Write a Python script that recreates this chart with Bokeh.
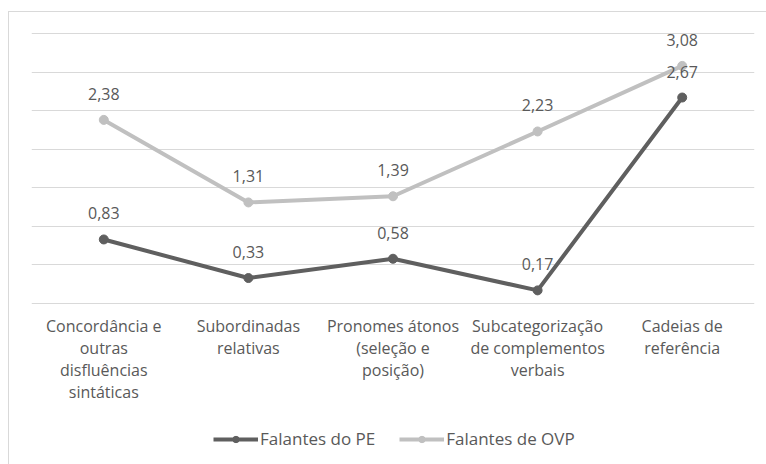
import numpy as np
from bokeh.plotting import figure
from bokeh.models import Range1d, FixedTicker, Legend, LegendItem, ColumnDataSource
from bokeh.core.properties import value
from bokeh.embed import file_html
from bokeh.resources import INLINE

# --- data -------------------------------------------------------------
categories = [
    "Concordância e\noutras\ndisfluências\nsintáticas",
    "Subordinadas\nrelativas",
    "Pronomes átonos\n(seleção e\nposição)",
    "Subcategorização\nde complementos\nverbais",
    "Cadeias de\nreferência",
]
falantes_pe = [0.83, 0.33, 0.58, 0.17, 2.67]
falantes_ovp = [2.38, 1.31, 1.39, 2.23, 3.08]
series_names = ["Falantes do PE", "Falantes de OVP"]

FONT = "Open Sans"
DARK = "#5f5f5f"
LIGHT = "#c0c0c0"
TEXT = "#595959"
GRID = "#d9d9d9"

x = list(range(len(categories)))

# the frame runs down to the bottom of the chart so that the category
# labels and the legend sit inside it; the value scale is 77.14 px per unit
PX_PER_UNIT = 77.14
FRAME_H = 432
y_top = 3.5 + 1 / PX_PER_UNIT
y_bottom = y_top - FRAME_H / PX_PER_UNIT

p = figure(
    width=757, height=452,
    frame_width=723, frame_height=FRAME_H,
    output_backend="svg", toolbar_location=None,
    x_range=Range1d(-0.5, len(categories) - 0.5),
    y_range=Range1d(y_bottom, y_top),
    min_border_left=22, min_border_right=12,
    min_border_top=20, min_border_bottom=0,
)
p.margin = (11, 0, 0, 8)
p.styles = {"border-top": f"1px solid {GRID}", "border-left": f"1px solid {GRID}"}
p.outline_line_color = None
p.background_fill_color = "white"
p.border_fill_color = "white"

p.xaxis.visible = False
p.yaxis.visible = False
p.xgrid.grid_line_color = None
p.ygrid.ticker = FixedTicker(ticks=list(np.arange(0, 3.51, 0.5)))
p.ygrid.grid_line_color = GRID
p.ygrid.grid_line_width = 1

src_pe = ColumnDataSource(dict(x=x, y=falantes_pe,
                               t=[f"{v:.2f}".replace(".", ",") for v in falantes_pe]))
src_ovp = ColumnDataSource(dict(x=x, y=falantes_ovp,
                                t=[f"{v:.2f}".replace(".", ",") for v in falantes_ovp]))

items = []
for src, color, name in [(src_pe, DARK, series_names[0]), (src_ovp, LIGHT, series_names[1])]:
    ln = p.line("x", "y", source=src, line_color=color, line_width=4)
    mk = p.scatter("x", "y", source=src, size=9, fill_color=color, line_color=color)
    items.append(LegendItem(label=name, renderers=[ln, mk]))

# value labels above the markers
for src in (src_pe, src_ovp):
    p.text("x", "y", text="t", source=src, text_font=value(FONT),
           text_font_size="16px", text_color=TEXT, text_align="center",
           text_baseline="middle", y_offset=-26)

# category labels under the zero line
cat_src = ColumnDataSource(dict(x=x, y=[0] * len(categories), t=categories))
p.text("x", "y", text="t", source=cat_src, text_font=value(FONT),
       text_font_size="16px", text_color=TEXT, text_align="center",
       text_baseline="top", text_line_height=1.0, y_offset=12)

legend = Legend(items=items, orientation="horizontal", location=(182, 14),
                label_text_font=FONT, label_text_font_size="17px",
                label_text_color=TEXT, glyph_width=45, glyph_height=16,
                label_standoff=2, spacing=24, padding=0, margin=0,
                border_line_color=None, background_fill_alpha=0)
p.add_layout(legend)

open("out.html", "w").write(file_html(p, INLINE))
